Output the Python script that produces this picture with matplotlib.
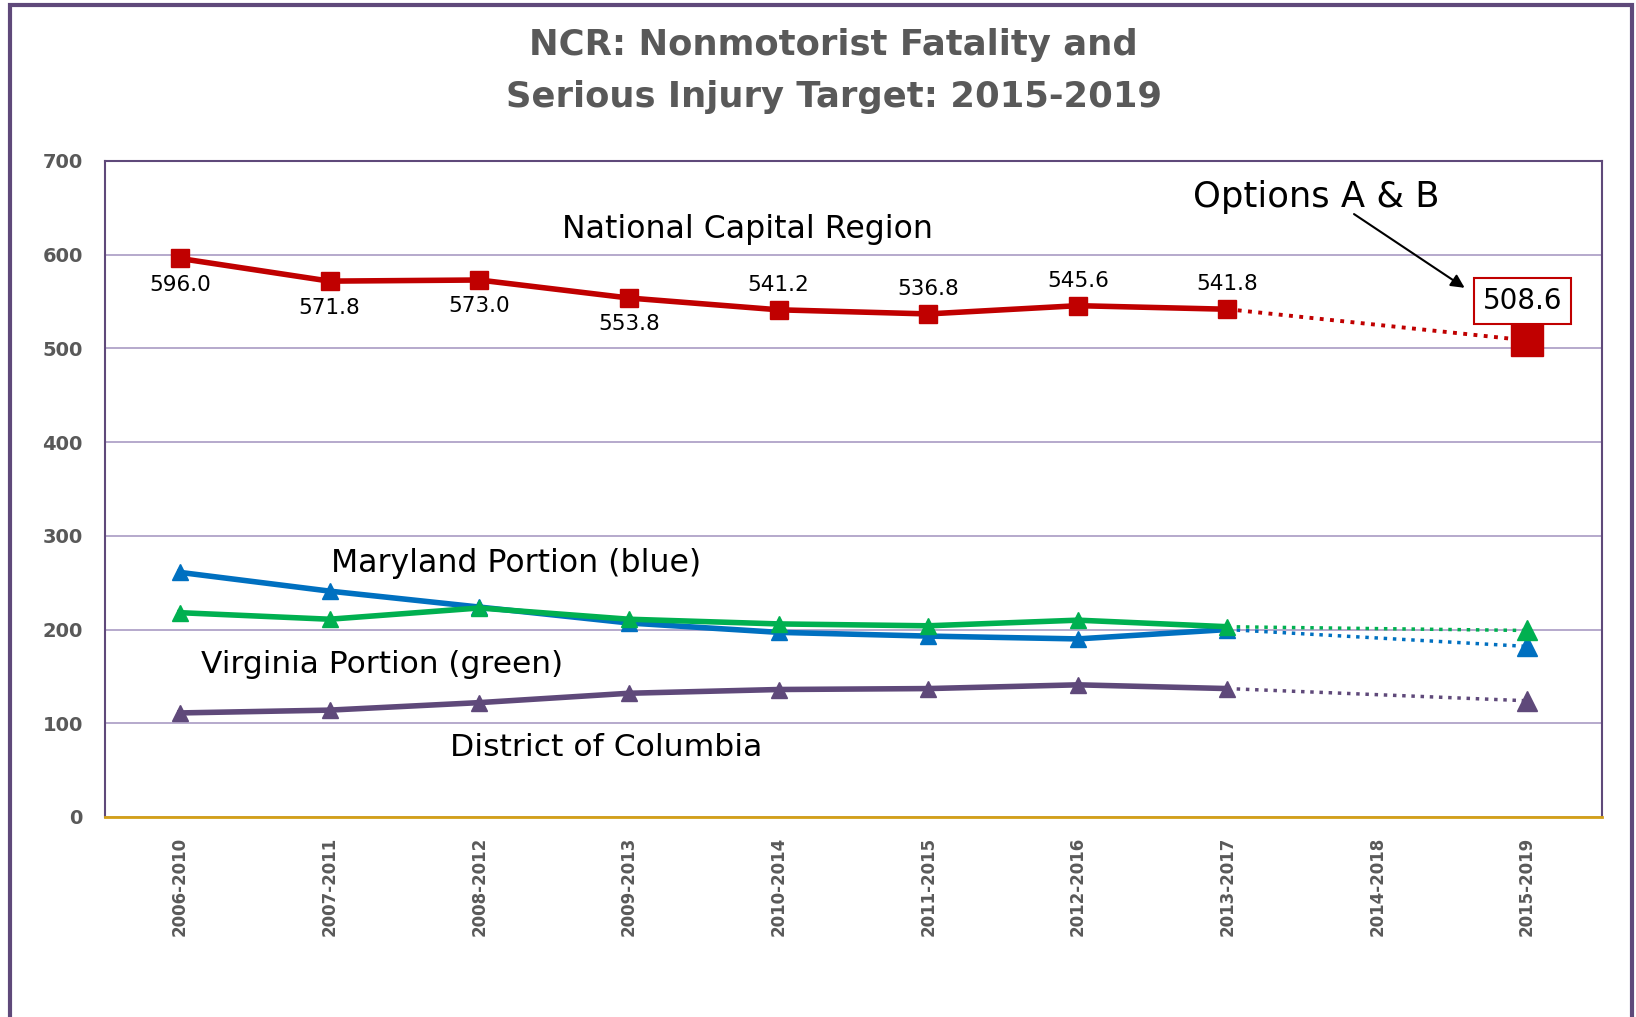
import numpy as np
import matplotlib.pyplot as plt
from matplotlib.patches import Rectangle

periods = ['2006-2010', '2007-2011', '2008-2012', '2009-2013', '2010-2014',
           '2011-2015', '2012-2016', '2013-2017', '2014-2018', '2015-2019']

# observed values (2006-2010 .. 2013-2017)
ncr = [596.0, 571.8, 573.0, 553.8, 541.2, 536.8, 545.6, 541.8]
maryland = [261, 241, 224, 207, 197, 193, 190, 200]
virginia = [218, 211, 223, 211, 206, 204, 210, 203]
dc = [111, 114, 122, 132, 136, 137, 141, 137]

# targets for 2015-2019
ncr_target = 508.6
maryland_target = 182
virginia_target = 199
dc_target = 124

label_below = [True, True, True, True, False, False, False, False]

red = '#C00000'
blue = '#0070C0'
green = '#00B050'
purple = '#5F497A'
grey = '#595959'

fig = plt.figure(figsize=(16.36, 10.17), dpi=100)
ax = fig.add_axes([0.0642, 0.1967, 0.9148, 0.645])

x = np.arange(len(ncr))
x_last = len(periods) - 1

series = [(maryland, maryland_target, blue),
          (virginia, virginia_target, green),
          (dc, dc_target, purple)]
for vals, target, col in series:
    ax.plot([x[-1], x_last], [vals[-1], target], ':', color=col, lw=2.5, zorder=2)
    ax.plot(x, vals, '-', color=col, lw=4, marker='^', ms=12, zorder=3)
    ax.plot(x_last, target, marker='^', color=col, ms=15, zorder=3)

ax.plot([x[-1], x_last], [ncr[-1], ncr_target], ':', color=red, lw=2.8, zorder=4)
ax.plot(x, ncr, '-', color=red, lw=4, marker='s', ms=13, zorder=5)
ax.plot(x_last, ncr_target, marker='s', color=red, ms=23, zorder=5)

for xi, v, below in zip(x, ncr, label_below):
    off = -19 if below else 18
    ax.annotate(f'{v:.1f}', (xi, v), xytext=(0, off), textcoords='offset points',
                ha='center', va='center', fontsize=15.5, color='black')

ax.text(8.97, 551, f'{ncr_target:.1f}', ha='center', va='center', fontsize=20,
        color='black', zorder=6,
        bbox=dict(boxstyle='square,pad=0.32', fc='white', ec=red, lw=1.5))
ax.annotate('', xy=(8.6, 563), xytext=(7.83, 645),
            arrowprops=dict(arrowstyle='-|>', color='black', lw=1.5, mutation_scale=20))

ax.text(3.79, 627, 'National Capital Region', ha='center', va='center', fontsize=22.7)
ax.text(7.59, 662, 'Options A & B', ha='center', va='center', fontsize=25.5)
ax.text(2.25, 270, 'Maryland Portion (blue)', ha='center', va='center', fontsize=22.7)
ax.text(1.35, 163, 'Virginia Portion (green)', ha='center', va='center', fontsize=22.5)
ax.text(2.85, 74, 'District of Columbia', ha='center', va='center', fontsize=22.6)

ax.set_xlim(-0.5, 9.5)
ax.set_ylim(0, 700)
ax.set_yticks(range(0, 701, 100))
ax.set_xticks(range(len(periods)))
ax.set_xticklabels(periods, rotation=90, fontsize=12, fontweight='bold', color=grey)
ax.tick_params(axis='y', labelsize=14, labelcolor=grey, length=0, pad=16)
for lab in ax.get_yticklabels():
    lab.set_fontweight('bold')
ax.tick_params(axis='x', length=0, pad=14)
ax.grid(axis='y', color='#A99BC4', lw=1.2)
ax.set_axisbelow(True)
for s in ['left', 'right', 'top']:
    ax.spines[s].set_color(purple)
    ax.spines[s].set_linewidth(1.5)
ax.spines['bottom'].set_color('#D4A017')
ax.spines['bottom'].set_linewidth(2)

fig.text(0.5097, 0.956, 'NCR: Nonmotorist Fatality and', ha='center', va='center',
         fontsize=25.5, fontweight='bold', color=grey)
fig.text(0.5097, 0.905, 'Serious Injury Target: 2015-2019', ha='center', va='center',
         fontsize=25.5, fontweight='bold', color=grey)

fig.patches.append(Rectangle((0.0064, -0.05), 0.991, 1.045, transform=fig.transFigure,
                             fill=False, ec=purple, lw=3))

fig.savefig('out.png')
